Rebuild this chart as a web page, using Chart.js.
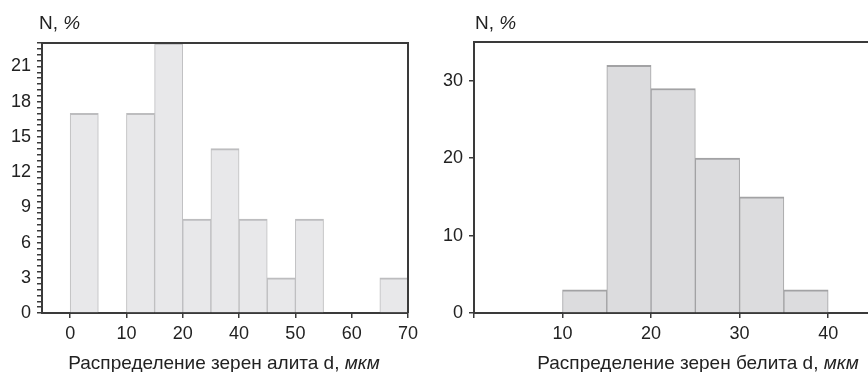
<!DOCTYPE html>
<html><head><meta charset="utf-8">
<script src="https://cdn.jsdelivr.net/npm/chart.js@4"></script>
<style>
html,body{margin:0;padding:0;background:#fff;}
body{width:868px;height:372px;position:relative;overflow:hidden;font-family:'Liberation Sans',Arial,sans-serif;color:#222;}
.box{position:absolute;top:0;width:434px;height:372px;}
#b1{left:0}#b2{left:434px}
.txt{position:absolute;white-space:nowrap;line-height:1;}
.nlab{font-size:19px;top:13px;}
.title{font-size:19px;top:353px;transform:translateX(-50%);}
i{font-style:italic;}
</style></head>
<body>
<div class="box" id="b1"><canvas id="c1" width="434" height="372"></canvas></div>
<div class="box" id="b2"><canvas id="c2" width="434" height="372"></canvas></div>
<div class="txt nlab" style="left:39px">N, <i>%</i></div>
<div class="txt nlab" style="left:475px">N, <i>%</i></div>
<div class="txt title" style="left:224px">Распределение зерен алита d, <i>мкм</i></div>
<div class="txt title" style="left:698px">Распределение зерен белита d, <i>мкм</i></div>
<script>
// ---- Data: alite (left) ----
const alitBinCenters = [2.5, 12.5, 17.5, 22.5, 27.5, 32.5, 37.5, 42.5, 57.5];
const alitValues     = [17, 17, 23, 8, 14, 8, 3, 8, 3];
const alitTickPos    = [0, 10, 20, 30, 40, 50, 60];
const alitTickLabels = ['0', '10', '20', '40', '50', '60', '70'];
const alitYMajor     = [0, 3, 6, 9, 12, 15, 18, 21];

// ---- Data: belite (right) ----
const belitBinCenters = [12.5, 17.5, 22.5, 27.5, 32.5, 37.5];
const belitValues     = [3, 32, 29, 20, 15, 3];
const belitTickPos    = [0, 10, 20, 30, 40];
const belitTickLabels = ['', '10', '20', '30', '40'];
const belitYTicks     = [0, 10, 20, 30];

const AXIS = '#3a3a3a';
const TXT = '#222';
const FONT = {family: "'Liberation Sans', Arial, sans-serif", size: 18};

const framePlugin = {
  id: 'frame',
  afterDatasetsDraw(chart, args, opts) {
    const {ctx, chartArea: a} = chart;
    ctx.save();
    ctx.strokeStyle = AXIS;
    ctx.lineWidth = 2;
    ctx.beginPath();
    ctx.moveTo(a.left, a.top);
    ctx.lineTo(opts.right ? a.right : chart.width, a.top);
    if (opts.right) { ctx.lineTo(a.right, a.bottom); }
    ctx.stroke();
    ctx.restore();
  }
};

function makeChart(id, centers, values, xMin, xMax, tickPos, tickLabels, yMax, yTicksFn, yLabelFn, yWidth, top, right, colors) {
  return new Chart(document.getElementById(id), {
    type: 'bar',
    data: {
      datasets: [{
        data: centers.map((c, i) => ({x: c, y: values[i]})),
        backgroundColor: colors.fill,
        borderColor: colors.stroke,
        borderWidth: {top: 2, left: 1, right: 1, bottom: 0},
        borderSkipped: 'start',
        barPercentage: 1,
        categoryPercentage: 1
      }]
    },
    plugins: [framePlugin],
    options: {
      responsive: false,
      animation: false,
      layout: {padding: {top: top, right: right, left: 0, bottom: 0}},
      plugins: {legend: {display: false}, tooltip: {enabled: false}, frame: {right: right > 0}},
      scales: {
        x: {
          type: 'linear', min: xMin, max: xMax, offset: false,
          afterBuildTicks: s => { s.ticks = tickPos.map(v => ({value: v})); },
          afterFit: s => { s.height = 59; },
          ticks: {callback: (v, i) => tickLabels[i], font: FONT, color: TXT, padding: 5, autoSkip: false, maxRotation: 0},
          grid: {offset: false, drawOnChartArea: false, drawTicks: true, tickLength: 5, color: AXIS, lineWidth: 1.5},
          border: {display: true, color: AXIS, width: 2}
        },
        y: {
          min: 0, max: yMax,
          afterBuildTicks: s => { s.ticks = yTicksFn().map(v => ({value: v})); },
          afterFit: s => { s.width = yWidth; },
          ticks: {callback: yLabelFn, font: FONT, color: TXT, padding: 6, autoSkip: false},
          grid: {drawOnChartArea: false, drawTicks: true, tickLength: 5, color: AXIS, lineWidth: 1.5},
          border: {display: true, color: AXIS, width: 2}
        }
      }
    }
  });
}

// left: minor ticks every 0.5, labels at alitYMajor
makeChart('c1', alitBinCenters, alitValues, -5, 60, alitTickPos, alitTickLabels, 23,
  () => { const t = []; for (let k = 0; k <= 46; k++) t.push(k / 2); return t; },
  v => alitYMajor.includes(v) ? String(v) : '',
  42, 43, 26, {fill: '#e8e8ea', stroke: '#bdbdbf'});

makeChart('c2', belitBinCenters, belitValues, 0, 44.5, belitTickPos, belitTickLabels, 35,
  () => belitYTicks,
  v => String(v),
  40, 42, 0, {fill: '#dcdcde', stroke: '#a2a2a4'});
</script>
</body></html>
